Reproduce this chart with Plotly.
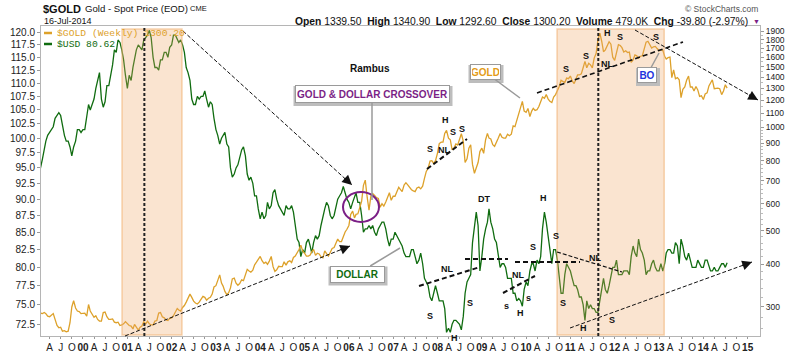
import math
import plotly.graph_objects as go

# ---------------- data (two samples per month: 1st & 16th) ----------------
gold_by_year = {
    1999: [287, 288, 287, 289, 287, 282, 281, 285, 287, 276, 265, 261, 262, 255, 256, 254, 255, 270, 300, 313, 298, 292, 291, 287],
    2000: [288, 288, 282, 305, 292, 286, 280, 283, 276, 273, 273, 289, 290, 281, 276, 276, 277, 271, 270, 271, 265, 266, 268, 272],
    2001: [269, 265, 264, 259, 267, 263, 257, 262, 264, 272, 268, 273, 268, 266, 266, 273, 274, 288, 289, 281, 279, 275, 274, 278],
    2002: [279, 283, 292, 297, 294, 292, 299, 303, 310, 320, 327, 320, 312, 308, 306, 310, 316, 322, 320, 314, 318, 320, 327, 343],
    2003: [346, 358, 372, 352, 345, 333, 326, 330, 341, 362, 364, 352, 347, 351, 360, 358, 375, 386, 382, 379, 384, 398, 405, 412],
    2004: [421, 409, 402, 405, 399, 408, 421, 393, 381, 385, 394, 393, 393, 406, 397, 406, 409, 404, 418, 422, 430, 441, 454, 437],
    2005: [430, 422, 422, 425, 435, 441, 424, 430, 428, 420, 417, 437, 429, 422, 433, 444, 447, 462, 473, 465, 465, 480, 496, 505],
    2006: [518, 558, 570, 545, 558, 560, 586, 609, 678, 702, 625, 574, 630, 642, 634, 624, 621, 585, 599, 590, 606, 627, 645, 613],
    2007: [630, 630, 652, 669, 660, 650, 679, 690, 680, 668, 658, 653, 650, 666, 670, 662, 674, 710, 744, 760, 798, 800, 785, 800],
    2008: [840, 897, 905, 905, 960, 980, 930, 920, 860, 870, 895, 888, 930, 958, 910, 790, 810, 870, 890, 780, 735, 760, 790, 850],
    2009: [870, 840, 920, 960, 930, 925, 890, 880, 900, 930, 960, 935, 930, 930, 955, 945, 955, 1010, 1005, 1050, 1085, 1130, 1190, 1115],
    2010: [1105, 1135, 1075, 1115, 1135, 1120, 1125, 1150, 1180, 1225, 1215, 1245, 1210, 1190, 1180, 1225, 1245, 1275, 1315, 1370, 1360, 1350, 1390, 1385],
    2011: [1410, 1365, 1340, 1375, 1420, 1420, 1430, 1490, 1555, 1490, 1535, 1520, 1490, 1590, 1640, 1795, 1880, 1780, 1660, 1680, 1720, 1775, 1745, 1600],
    2012: [1565, 1645, 1740, 1730, 1705, 1655, 1670, 1650, 1655, 1545, 1570, 1625, 1615, 1590, 1610, 1615, 1690, 1770, 1780, 1745, 1700, 1715, 1720, 1695],
    2013: [1670, 1680, 1675, 1610, 1580, 1595, 1600, 1395, 1470, 1385, 1395, 1375, 1220, 1290, 1310, 1370, 1410, 1310, 1310, 1275, 1315, 1285, 1230, 1235],
    2014: [1205, 1250, 1260, 1320, 1340, 1375, 1295, 1300, 1300, 1295, 1245, 1275, 1330, 1300.20],
}
usd_by_year = {
    1999: [94.2, 95.0, 96.5, 98.5, 99.5, 100.5, 101.0, 101.5, 102.0, 103.5, 104.0, 104.5, 104.0, 102.0, 100.5, 99.5, 99.5, 98.5, 97.0, 98.5, 99.5, 101.5, 101.5, 101.0],
    2000: [101.5, 101.5, 104.0, 106.0, 105.0, 106.0, 107.0, 109.0, 110.5, 112.0, 107.0, 105.5, 106.5, 109.5, 109.5, 111.5, 113.5, 116.5, 116.0, 118.5, 118.0, 116.5, 114.5, 111.5],
    2001: [109.0, 111.5, 110.5, 113.0, 114.5, 116.5, 117.5, 117.0, 116.5, 118.5, 119.0, 119.5, 120.5, 119.0, 115.0, 113.0, 113.0, 112.5, 114.5, 114.5, 116.0, 116.0, 115.0, 117.0],
    2002: [117.5, 119.5, 119.5, 118.5, 118.0, 118.5, 117.5, 116.0, 113.0, 112.0, 110.5, 107.0, 106.0, 106.0, 107.5, 107.0, 107.5, 107.5, 108.5, 107.0, 105.5, 106.5, 106.0, 103.5],
    2003: [101.5, 100.5, 99.0, 100.0, 100.5, 101.0, 99.0, 98.5, 95.0, 93.5, 94.0, 95.0, 95.5, 97.0, 98.0, 98.5, 97.0, 94.0, 93.0, 93.5, 92.5, 90.5, 90.5, 88.5],
    2004: [87.0, 88.0, 87.0, 87.5, 89.5, 88.5, 89.0, 91.0, 91.5, 90.0, 89.0, 88.5, 88.0, 87.5, 89.0, 88.5, 88.5, 89.0, 88.0, 86.0, 84.0, 83.5, 81.5, 82.5],
    2005: [82.0, 83.5, 84.0, 83.0, 82.0, 83.5, 84.5, 84.0, 84.5, 86.0, 87.5, 88.5, 89.5, 89.0, 87.5, 87.0, 87.5, 89.0, 90.0, 90.5, 91.0, 92.0, 91.0, 90.0],
    2006: [89.5, 88.5, 89.5, 90.5, 91.0, 89.5, 89.5, 87.5, 85.0, 85.5, 85.5, 86.0, 85.5, 86.0, 85.0, 84.5, 85.5, 86.0, 86.5, 86.5, 85.5, 84.0, 83.0, 84.0],
    2007: [84.0, 85.0, 84.5, 84.0, 83.5, 83.0, 82.0, 81.5, 81.5, 81.5, 82.5, 82.5, 81.5, 80.5, 81.0, 82.0, 80.5, 78.5, 78.0, 77.5, 76.0, 75.5, 76.5, 77.5],
    2008: [76.5, 75.5, 75.5, 75.5, 74.5, 71.5, 72.0, 71.5, 72.5, 73.0, 73.0, 72.8, 72.5, 71.8, 73.5, 76.5, 78.0, 78.5, 79.0, 83.5, 85.5, 88.0, 86.0, 79.5],
    2009: [81.5, 84.0, 85.5, 86.5, 88.5, 86.5, 85.5, 84.0, 83.5, 81.5, 80.0, 80.5, 80.5, 80.0, 78.5, 78.5, 78.5, 76.5, 76.5, 75.5, 75.8, 75.5, 74.8, 77.0],
    2010: [78.0, 77.5, 79.5, 80.5, 80.5, 79.5, 81.0, 80.5, 81.5, 85.5, 88.0, 86.5, 84.5, 82.5, 80.5, 82.5, 82.5, 81.0, 78.5, 76.5, 76.5, 79.0, 80.5, 80.0],
    2011: [79.5, 78.5, 77.5, 77.5, 77.0, 76.0, 76.0, 75.0, 73.0, 75.5, 74.5, 75.0, 74.5, 74.5, 74.0, 74.0, 75.5, 77.5, 78.5, 77.0, 76.5, 77.5, 79.0, 80.0],
    2012: [80.0, 81.0, 79.0, 79.0, 79.0, 79.5, 79.5, 79.5, 79.0, 81.5, 83.0, 82.0, 81.5, 84.0, 82.5, 82.0, 81.0, 79.0, 79.5, 79.5, 80.5, 81.0, 80.0, 79.5],
    2013: [79.5, 80.5, 79.5, 80.5, 82.0, 82.5, 82.5, 82.0, 82.0, 83.5, 83.0, 80.5, 84.0, 83.0, 81.5, 81.0, 82.0, 81.0, 80.0, 80.0, 80.0, 81.0, 80.5, 80.0],
    2014: [80.0, 81.0, 81.0, 80.0, 79.5, 79.5, 80.0, 79.5, 79.5, 80.0, 80.5, 80.5, 80.0, 80.62],
}

dates, gold_spot, usd_index = [], [], []
for yr in sorted(gold_by_year):
    g, u = gold_by_year[yr], usd_by_year[yr]
    for i in range(len(g)):
        m, half = i // 2 + 1, i % 2
        dates.append(f"{yr}-{m:02d}-{'01' if half == 0 else '16'}")
        gold_spot.append(g[i])
        usd_index.append(u[i])

usd_ticks = [72.5, 75.0, 77.5, 80.0, 82.5, 85.0, 87.5, 90.0, 92.5, 95.0, 97.5, 100.0,
             102.5, 105.0, 107.5, 110.0, 112.5, 115.0, 117.5, 120.0]
gold_ticks = [300, 400, 500, 600, 700, 800, 900, 1000, 1100, 1200, 1300, 1400,
              1500, 1600, 1700, 1800, 1900]
quarter_letters = {4: "A", 7: "J", 10: "O"}

x_tickvals, x_ticktext = [], []
for yr in range(1999, 2016):
    for m in (1, 4, 7, 10):
        d = f"{yr}-{m:02d}-01"
        if "1999-02-01" < d < "2015-04-01":
            x_tickvals.append(d)
            x_ticktext.append(f"<b>{yr % 100:02d}</b>" if m == 1 else quarter_letters[m])

gold_minor = [v for v in range(260, 1000, 20)] + [v for v in range(1050, 1950, 50)]

# ---------------- styling ----------------
GOLD_C = "#DDA12A"
USD_C = "#106C10"
FONT = "Liberation Sans, Arial, sans-serif"
W, H = 800, 352
ML, MR, MT, MB = 41, 40, 26, 16
PW, PH = W - ML - MR, H - MT - MB


def P(x, y):
    """pixel position -> paper coordinates"""
    return (x - ML) / PW, (H - MB - y) / PH


fig = go.Figure()
fig.add_trace(go.Scatter(x=dates, y=gold_spot, yaxis="y2", mode="lines",
                         line=dict(color=GOLD_C, width=1.3), name="$GOLD", hoverinfo="skip"))
fig.add_trace(go.Scatter(x=dates, y=usd_index, yaxis="y", mode="lines",
                         line=dict(color=USD_C, width=1.3), name="$USD", hoverinfo="skip"))

shapes = []
annotations = []

# shaded zones (drawn over lines, semi-transparent)
for x0, x1 in [("2000-11-18", "2002-03-27"), ("2010-09-13", "2013-02-12")]:
    shapes.append(dict(type="rect", xref="x", yref="paper", x0=x0, x1=x1,
                       y0=P(0, 335)[1], y1=P(0, 29)[1], layer="above",
                       fillcolor="rgba(240,165,100,0.30)",
                       line=dict(color="rgba(240,175,110,0.55)", width=1.5)))
# vertical dashed lines
for xd in ["2001-05-21", "2011-08-19"]:
    shapes.append(dict(type="line", xref="x", yref="paper", x0=xd, x1=xd, y0=0, y1=1,
                       layer="above", line=dict(color="#222", width=2, dash="3px,2px")))


def seg(x0, y0, x1, y1, w=1.0, dash="4px,2px"):
    a, b = P(x0, y0)
    c, d = P(x1, y1)
    shapes.append(dict(type="line", xref="paper", yref="paper", x0=a, y0=b, x1=c, y1=d,
                       layer="above", line=dict(color="#111", width=w, dash=dash)))


def arrow(x0, y0, x1, y1):
    seg(x0, y0, x1, y1)
    L = math.hypot(x1 - x0, y1 - y0)
    ux, uy = (x1 - x0) / L, (y1 - y0) / L
    tx, ty = P(x1, y1)
    annotations.append(dict(x=tx, y=ty, xref="paper", yref="paper", text="", showarrow=True,
                            ax=-ux * 12, ay=-uy * 12, arrowhead=2, arrowsize=1.3,
                            arrowwidth=1.5, arrowcolor="#111"))


# long trend lines with arrows
arrow(183, 31, 352, 185)
arrow(125, 336, 350, 246)
arrow(635, 30, 758, 100)
arrow(570, 328, 752, 262)
# gold necklines
seg(427, 169, 467, 139, w=2, dash="5px,3px")
seg(537, 93, 683, 42, w=1.6, dash="5px,3px")
# dollar necklines
seg(419, 286, 480, 267, w=2, dash="5px,3px")
seg(465, 259, 508, 259, w=2, dash="5px,3px")
seg(515, 262, 580, 262, w=2, dash="5px,3px")
seg(503, 293, 535, 276, w=2, dash="5px,3px")
seg(557, 252, 622, 272, w=1.2, dash="4px,2px")

# purple ellipse
a, b = P(343, 222)
c, d = P(379, 192)
shapes.append(dict(type="circle", xref="paper", yref="paper", x0=a, y0=b, x1=c, y1=d,
                   layer="above", line=dict(color="#7B1F86", width=2)))


def label(text, x, y, size=9, color="#111", bold=True, xanchor="center", family=FONT):
    px_, py_ = P(x, y)
    annotations.append(dict(x=px_, y=py_, xref="paper", yref="paper",
                            text=f"<b>{text}</b>" if bold else text, showarrow=False,
                            xanchor=xanchor, yanchor="middle",
                            font=dict(size=size, color=color, family=family)))


for t, x, y in [("S", 430, 149), ("H", 445, 120), ("S", 453, 132), ("S", 462, 129), ("NL", 444, 150),
                ("NL", 447, 269), ("S", 430, 316), ("H", 454, 338), ("S", 470, 303), ("DT", 484, 199),
                ("s", 506, 306), ("H", 520, 313), ("s", 528, 298), ("NL", 518, 275),
                ("S", 533, 247), ("H", 543, 198), ("S", 556, 236),
                ("S", 563, 303), ("H", 583, 328), ("S", 612, 320), ("NL", 595, 258),
                ("S", 566, 69), ("S", 586, 56), ("H", 607, 33), ("S", 620, 37), ("S", 656, 37),
                ("NL", 607, 64)]:
    label(t, x, y)

label("Rambus", 370, 68, size=10)


def callout(text, color, box_cx, box_cy, tip_x, tip_y, w, h, size=10):
    tx, ty = P(tip_x, tip_y)
    # shadow
    a, b = P(box_cx - w / 2 - 1, box_cy + h / 2 + 3)
    c, d = P(box_cx + w / 2 + 3, box_cy - h / 2 + 1)
    shapes.append(dict(type="rect", xref="paper", yref="paper", x0=a, y0=b, x1=c, y1=d,
                       layer="above", fillcolor="#bdbdbd", line=dict(width=0)))
    annotations.append(dict(x=tx, y=ty, xref="paper", yref="paper", text=f"<b>{text}</b>",
                            showarrow=True, ax=box_cx - tip_x, ay=box_cy - tip_y,
                            arrowhead=0, arrowwidth=1.5, arrowcolor="#9a9a9a",
                            bgcolor="white", bordercolor="#9a9a9a", borderwidth=1, borderpad=1,
                            width=w - 4, height=h - 4,
                            font=dict(size=size, color=color, family=FONT)))


callout("GOLD &amp; DOLLAR CROSSOVER", "#7B1F86", 372, 94, 372, 200, 155, 18)
callout("GOLD", "#E39B17", 485, 72, 520, 98, 31, 16)
callout("DOLLAR", USD_C, 357, 274, 400, 248, 55, 17)
callout("BO", "#2233DD", 647, 75, 659, 53, 20, 16)

# legend (inside plot, top-left)
for (y, col, txt) in [(33, GOLD_C, "$GOLD (Weekly) 1300.20"), (44, USD_C, "$USD 80.62")]:
    a, b = P(44, y)
    c, _ = P(52, y)
    shapes.append(dict(type="line", xref="paper", yref="paper", x0=a, x1=c, y0=b, y1=b,
                       layer="above", line=dict(color=col, width=2.5)))
    label(txt, 55, y, size=9.7, color=col, bold=False, xanchor="left",
          family="Liberation Mono, DejaVu Sans Mono, monospace")

# header
label("$GOLD", 41, 9, size=11, xanchor="left")
label("Gold - Spot Price (EOD)", 83, 9, size=9.6, bold=False, xanchor="left")
label("CME", 188, 9, size=7.5, bold=False, xanchor="left")
label("16-Jul-2014", 42, 21, size=9, bold=False, xanchor="left")
label("© StockCharts.com", 760, 9, size=8.5, color="#555", bold=False, xanchor="right")
label("<b>Open</b> 1339.50  <b>High</b> 1340.90  <b>Low</b> 1292.60  <b>Close</b> 1300.20  "
      "<b>Volume</b> 479.0K  <b>Chg</b> -39.80 (-2.97%)", 750, 21, size=10.3, bold=False,
      xanchor="right")
label("▼", 756, 21, size=7, color="#7B1F86", bold=False)

fig.update_layout(
    width=W, height=H, autosize=False,
    margin=dict(l=ML, r=MR, t=MT, b=MB),
    paper_bgcolor="white", plot_bgcolor="white",
    showlegend=False,
    font=dict(family=FONT, size=10, color="#222"),
    xaxis=dict(type="date", range=["1999-01-20", "2015-04-13"], automargin=False,
               tickvals=x_tickvals, ticktext=x_ticktext, tickangle=0,
               tickfont=dict(size=10, color="#222"),
               ticks="outside", ticklen=2, tickcolor="#999",
               showline=True, mirror=True, linecolor="#b5b5b5", linewidth=1,
               showgrid=False, zeroline=False),
    yaxis=dict(type="log", side="left", automargin=False,
               range=[1.85156, 2.08421],
               tickvals=usd_ticks, ticktext=[f"{v:.1f}" for v in usd_ticks],
               tickfont=dict(size=10, color="#222"),
               ticks="outside", ticklen=3, tickcolor="#999",
               showline=True, linecolor="#b5b5b5", linewidth=1,
               showgrid=False, zeroline=False),
    yaxis2=dict(type="log", side="right", overlaying="y", automargin=False,
                range=[2.3927, 3.2948],
                tickvals=gold_ticks, ticktext=[str(v) for v in gold_ticks],
                tickfont=dict(size=8.5, color="#222"),
                ticks="outside", ticklen=3, tickcolor="#999",
                minor=dict(tickvals=gold_minor, ticks="outside", ticklen=2, tickcolor="#bbb"),
                showline=True, linecolor="#b5b5b5", linewidth=1,
                showgrid=False, zeroline=False),
    shapes=shapes,
    annotations=annotations,
)

fig.write_html("out.html")
